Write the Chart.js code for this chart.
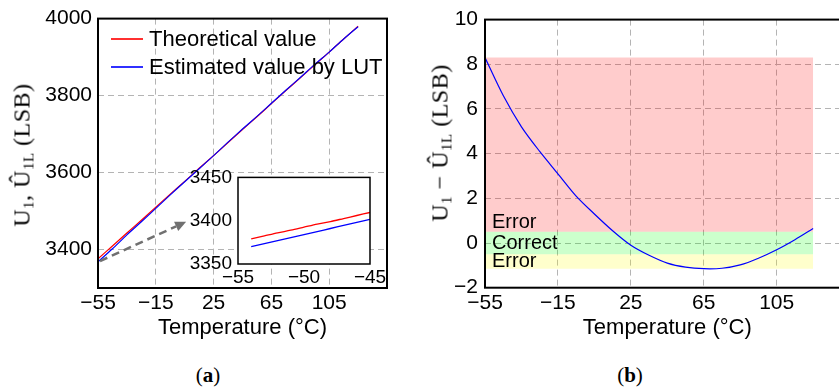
<!DOCTYPE html>
<html>
<head>
<meta charset="utf-8">
<script src="https://cdn.jsdelivr.net/npm/chart.js@4.4.1/dist/chart.umd.min.js"></script>
<style>
html, body { margin: 0; padding: 0; background: #fff; }
#wrap { position: relative; width: 839px; height: 391px; overflow: hidden; background: #fff; }
canvas { position: absolute; }
.ytitle { position: absolute; font-family: 'Liberation Serif', serif; font-size: 24px; white-space: nowrap;
          transform: translate(-50%, -50%) rotate(-90deg); color: #000; letter-spacing: 0.5px; }
.ytitle sub { font-size: 15px; vertical-align: -4px; line-height: 0; }
.legend { position: absolute; font-family: 'Liberation Sans', Arial, sans-serif; font-size: 22px; color: #000; }
.legend div { position: absolute; white-space: nowrap; line-height: 22px; }
.legend span { position: absolute; display: block; height: 2px; width: 32px; }
.caption { position: absolute; font-family: 'Liberation Serif', serif; font-size: 21px; transform: translate(-50%, -50%); }
</style>
</head>
<body>
<div id="wrap">
  <canvas id="left-chart" width="420" height="345" style="left:0;top:0"></canvas>
  <canvas id="inset-chart" width="215" height="130" style="left:180px;top:160px"></canvas>
  <canvas id="right-chart" width="460" height="345" style="left:420px;top:0"></canvas>

  <div class="ytitle" style="left:22px;top:155px">U<sub>1</sub>, Û<sub>1L</sub> (LSB)</div>
  <div class="ytitle" style="left:440px;top:143px">U<sub>1</sub> − Û<sub>1L</sub> (LSB)</div>

  <div class="legend">
    <span style="left:111px;top:38px;background:#ff3030"></span>
    <div style="left:149px;top:28px">Theoretical value</div>
    <span style="left:111px;top:66px;background:#3030ff"></span>
    <div style="left:149px;top:56px">Estimated value by LUT</div>
  </div>

  <div class="caption" style="left:208px;top:375px">(<b>a</b>)</div>
  <div class="caption" style="left:630px;top:375px">(<b>b</b>)</div>
</div>

<script>
// values
const temps = [-55, -45, -35, -25, -15, -5, 5, 15, 25, 35, 45, 55, 65, 75, 85, 95, 105, 115, 125];
const theoretical = [3376, 3409, 3443, 3476, 3510, 3544, 3577, 3611, 3644, 3678, 3712, 3745, 3779, 3813, 3846, 3880, 3913, 3947, 3980];
const estimated = [3368, 3402, 3438, 3472, 3507, 3542, 3576, 3610, 3644, 3679, 3713, 3746, 3780, 3814, 3847, 3881, 3913, 3947, 3979];
const errorValues = [8.3, 6.6, 5.2, 4.1, 3.1, 2.1, 1.3, 0.55, -0.1, -0.55, -0.9, -1.08, -1.15, -1.13, -0.98, -0.68, -0.3, 0.15, 0.65];

const insetTemps = [-54, -53, -52, -51, -50, -49, -48, -47, -46, -45];
const insetTheoretical = [3379, 3382.5, 3386, 3389, 3392.5, 3396, 3399, 3402.5, 3406, 3409.5];
const insetEstimated = [3370, 3373.5, 3377, 3380.5, 3384, 3387.5, 3391, 3394.5, 3398, 3401.5];

const bandEdges = [-55, 125];
const bandLevels = [8.3, 0.5, -0.5, -1.15];
const bandColors = ['rgba(255,0,0,0.2)', 'rgba(0,255,0,0.2)', 'rgba(255,255,0,0.2)'];
const bandNames = ['Error', 'Correct', 'Error'];
const bandNameY = [0.9, 0, -0.83];

const leftXTicks = [-55, -15, 25, 65, 105];
const leftYTicks = [3400, 3600, 3800, 4000];
const insetXTicks = [-55, -50, -45];
const insetYTicks = [3350, 3400, 3450];
const rightXTicks = [-55, -15, 25, 65, 105];
const rightYTicks = [-2, 0, 2, 4, 6, 8, 10];

const arrowFrom = [-53.6, 3370];
const arrowTo = [6, 3472];

const SANS = "'Liberation Sans', Arial, sans-serif";

function pts(xs, ys) {
    return xs.map((x, i) => ({ x: x, y: ys[i] }));
}

function minusSign(v) {
    return String(v).replace('-', '\u2212');
}

// linear axis with fixed ticks and fixed size
function axis(min, max, tickList, size, fontSize, pad, withGrid, title) {
    const isX = title !== undefined;
    return {
        type: 'linear',
        min: min,
        max: max,
        afterBuildTicks: scale => { scale.ticks = tickList.map(v => ({ value: v })); },
        afterFit: scale => { if (isX) scale.height = size; else scale.width = size; },
        ticks: {
            autoSkip: false,
            maxRotation: 0,
            padding: pad,
            color: '#000',
            font: { family: SANS, size: fontSize },
            callback: minusSign
        },
        grid: { display: withGrid, drawTicks: false, color: '#b4b4b4', lineWidth: 1 },
        border: { display: false, dash: [6, 4] },
        title: title ? {
            display: true,
            text: title,
            color: '#000',
            font: { family: SANS, size: 22 },
            padding: { top: 0, bottom: 4 }
        } : { display: false }
    };
}

function boxPlugin(width, fillWhite) {
    return {
        id: 'box',
        beforeDraw(chart) {
            if (!fillWhite) return;
            const a = chart.chartArea;
            chart.ctx.save();
            chart.ctx.fillStyle = '#fff';
            chart.ctx.fillRect(a.left, a.top, a.right - a.left, a.bottom - a.top);
            chart.ctx.restore();
        },
        afterDraw(chart) {
            const a = chart.chartArea;
            const ctx = chart.ctx;
            ctx.save();
            ctx.strokeStyle = '#000';
            ctx.lineWidth = width;
            ctx.strokeRect(a.left, a.top, a.right - a.left, a.bottom - a.top);
            ctx.restore();
        }
    };
}

const arrowPlugin = {
    id: 'arrow',
    afterDatasetsDraw(chart) {
        const ctx = chart.ctx;
        const x = chart.scales.x, y = chart.scales.y;
        const x1 = x.getPixelForValue(arrowFrom[0]), y1 = y.getPixelForValue(arrowFrom[1]);
        const x2 = x.getPixelForValue(arrowTo[0]), y2 = y.getPixelForValue(arrowTo[1]);
        const ang = Math.atan2(y2 - y1, x2 - x1);
        const head = 11;
        const bx = x2 - head * Math.cos(ang), by = y2 - head * Math.sin(ang);
        ctx.save();
        ctx.strokeStyle = '#707070';
        ctx.fillStyle = '#707070';
        ctx.lineWidth = 2.5;
        ctx.setLineDash([8, 5]);
        ctx.beginPath();
        ctx.moveTo(x1, y1);
        ctx.lineTo(bx, by);
        ctx.stroke();
        ctx.setLineDash([]);
        ctx.beginPath();
        ctx.moveTo(x2, y2);
        ctx.lineTo(bx + 5 * Math.sin(ang), by - 5 * Math.cos(ang));
        ctx.lineTo(bx - 5 * Math.sin(ang), by + 5 * Math.cos(ang));
        ctx.closePath();
        ctx.fill();
        ctx.restore();
    }
};

const bandNamePlugin = {
    id: 'bandNames',
    afterDatasetsDraw(chart) {
        const ctx = chart.ctx;
        const x = chart.scales.x, y = chart.scales.y;
        ctx.save();
        ctx.fillStyle = '#000';
        ctx.font = '20px ' + SANS;
        ctx.textBaseline = 'middle';
        ctx.textAlign = 'left';
        bandNames.forEach((name, i) => {
            ctx.fillText(name, x.getPixelForValue(bandEdges[0]) + 7, y.getPixelForValue(bandNameY[i]));
        });
        ctx.restore();
    }
};

function lineSet(data, color, width) {
    return {
        data: data,
        borderColor: color,
        borderWidth: width,
        pointRadius: 0,
        fill: false,
        tension: 0.3
    };
}

const baseOptions = {
    responsive: false,
    animation: false,
    devicePixelRatio: 1,
    plugins: { legend: { display: false }, tooltip: { enabled: false } }
};

// (a) main chart
new Chart(document.getElementById('left-chart').getContext('2d'), {
    type: 'line',
    data: {
        datasets: [
            lineSet(pts(temps, estimated), '#0000ff', 1.2),
            lineSet(pts(temps, theoretical), '#ff0000', 1.2)
        ]
    },
    options: Object.assign({}, baseOptions, {
        layout: { padding: { left: 0, top: 17, right: 33, bottom: 0 } },
        scales: {
            x: axis(-55, 145, leftXTicks, 57, 21, 3, true, 'Temperature (°C)'),
            y: axis(3300, 4000, leftYTicks, 98, 21, 6, true)
        }
    }),
    plugins: [boxPlugin(2, false), arrowPlugin]
});

// (a) inset
new Chart(document.getElementById('inset-chart').getContext('2d'), {
    type: 'line',
    data: {
        datasets: [
            lineSet(pts(insetTemps, insetEstimated), '#0000ff', 1.3),
            lineSet(pts(insetTemps, insetTheoretical), '#ff0000', 1.3)
        ]
    },
    options: Object.assign({}, baseOptions, {
        layout: { padding: { left: 0, top: 16, right: 25, bottom: 0 } },
        scales: {
            x: axis(-55, -45, insetXTicks, 26, 19, 2, false, ''),
            y: axis(3350, 3450, insetYTicks, 58, 19, 6, false)
        }
    }),
    plugins: [boxPlugin(1.5, true)]
});

// (b) error chart with bands
const bandSets = bandLevels.map((level, k) => ({
    data: pts(bandEdges, [level, level]),
    borderWidth: 0,
    borderColor: 'transparent',
    backgroundColor: bandColors[k] || 'transparent',
    pointRadius: 0,
    fill: k < bandColors.length ? '+1' : false
}));

new Chart(document.getElementById('right-chart').getContext('2d'), {
    type: 'line',
    data: {
        datasets: [lineSet(pts(temps, errorValues), '#0000ff', 1.2)].concat(bandSets)
    },
    options: Object.assign({}, baseOptions, {
        layout: { padding: { left: 0, top: 18.7, right: 30.4, bottom: 0 } },
        scales: {
            x: axis(-55, 145, rightXTicks, 57.3, 21, 3, true, 'Temperature (°C)'),
            y: axis(-2, 10, rightYTicks, 65, 21, 7, true)
        }
    }),
    plugins: [boxPlugin(2, false), bandNamePlugin]
});
</script>
</body>
</html>
